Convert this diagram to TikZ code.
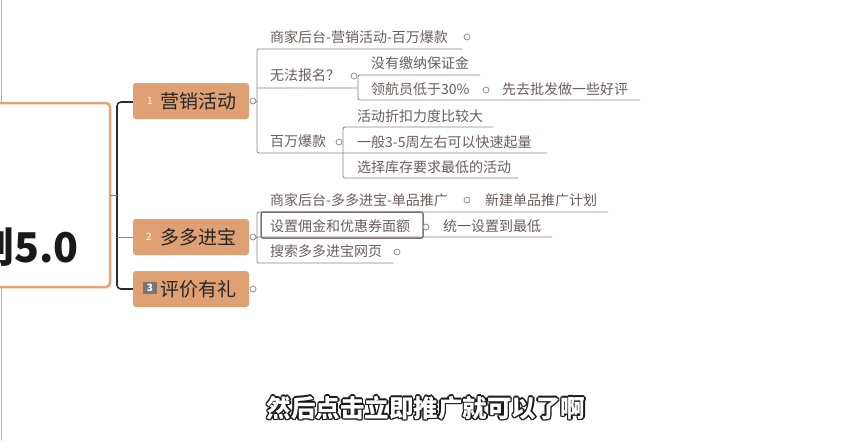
\documentclass[tikz,border=0pt]{standalone}
\usepackage{fontspec}
\setmainfont{Noto Sans CJK SC}
\definecolor{nodeorange}{HTML}{DFA073}
\definecolor{rootorange}{HTML}{E3A373}
\definecolor{leafgray}{HTML}{6A5D60}
\definecolor{linegray}{HTML}{8A8387}
\definecolor{darkline}{HTML}{2E2A2C}
\definecolor{badgegray}{HTML}{7D7575}
\tikzset{
	mainnode/.style={fill=nodeorange, rounded corners=3pt, minimum width=116pt, minimum height=36pt, inner sep=0pt},
	maintext/.style={font=\fontsize{19}{21}\selectfont, text=black!85, inner sep=0pt},
	leaf/.style={font=\fontsize{14}{16}\selectfont, text=leafgray, anchor=west, inner sep=0pt},
	fold/.style={circle, draw=linegray, line width=0.7pt, minimum size=6pt, inner sep=0pt},
	uline/.style={draw=linegray, line width=0.8pt},
}
\begin{document}
\begin{tikzpicture}[x=1pt, y=-1pt, line join=round, line cap=round]
	\useasboundingbox[fill=white] (0,0) rectangle (854,440);
	% root
	\draw[rootorange, line width=1.2pt] (1.2,0)--(1.2,440);
	\draw[rootorange, fill=white, line width=2.5pt, rounded corners=4pt] (-30,103) rectangle (110,287);
	\node[anchor=base east, inner sep=0pt, font=\bfseries\fontsize{41}{45}\selectfont, text=black!90] (root) at (79,262) {划5.0};
	% bracket
	\draw[darkline, line width=1.6pt, rounded corners=4pt] (133,102)--(117,102)--(117,289)--(133,289);
	\draw[linegray, line width=0.8pt] (110,195)--(117,195) (117,237)--(133,237);
	% main topics
	\node[mainnode] (mk) at (191,101) {};
	\node[mainnode] (dd) at (191,237) {};
	\node[mainnode] (pj) at (191,289) {};
	\node[maintext] (mkt) at (198.5,101) {营销活动};
	\node[maintext] (ddt) at (198.5,237) {多多进宝};
	\node[maintext] (pjt) at (198.5,289) {评价有礼};
	\node[inner sep=0pt, text=white, font=\fontsize{10}{10}\selectfont] (b1) at (150,101) {1};
	\node[inner sep=0pt, text=white, font=\fontsize{10}{10}\selectfont] (b2) at (149,237) {2};
	\node[fill=badgegray, text=white, inner sep=0pt, minimum width=14pt, minimum height=12pt, font=\bfseries\fontsize{10}{10}\selectfont] (b3) at (150,288) {3};
	% branch lines
	\draw[uline, rounded corners=2pt] (462,49)--(257,49)--(257,153)--(343,153) (257,88)--(358,88);
	\draw[uline, rounded corners=2pt] (480,75)--(358,75)--(358,100)--(640,100);
	\draw[uline, rounded corners=2pt] (493,127)--(343,127)--(343,178)--(518,178) (343,153)--(547,153);
	\draw[uline, rounded corners=2pt] (608,212)--(257,212)--(257,263)--(393,263) (257,237)--(552,237);
	\draw[uline, line width=1.5pt, draw=badgegray, rounded corners=2pt] (261,212) rectangle (423,238);
	\draw[uline] (253,101)--(257,101) (253,237)--(257,237);
	% leaves
	\node[leaf] (l1) at (270,37) {商家后台-营销活动-百万爆款};
	\node[leaf] (l2) at (270,75) {无法报名？};
	\node[leaf] (l21) at (371,63) {没有缴纳保证金};
	\node[leaf] (l22) at (371,89) {领航员低于30\%};
	\node[leaf] (l221) at (502,89) {先去批发做一些好评};
	\node[leaf] (l3) at (270,141) {百万爆款};
	\node[leaf] (l31) at (357,116) {活动折扣力度比较大};
	\node[leaf] (l32) at (357,142) {一般3-5周左右可以快速起量};
	\node[leaf] (l33) at (357,167) {选择库存要求最低的活动};
	\node[leaf] (m1) at (270,200) {商家后台-多多进宝-单品推广};
	\node[leaf] (m11) at (485,200) {新建单品推广计划};
	\node[leaf] (m2) at (270,226) {设置佣金和优惠券面额};
	\node[leaf] (m21) at (443,226) {统一设置到最低};
	\node[leaf] (m3) at (270,251) {搜索多多进宝网页};
	% fold markers
	\foreach \x/\y [count=\i] in {253/101, 253/237, 253/289, 467/37, 354/76, 486/90, 339/142, 467/200, 426/227, 397/252}
		\node[fold, fill=white] (f\i) at (\x,\y) {};
	% subtitle
	\foreach \a in {0,45,...,315}
		\node[font=\bfseries\fontsize{24.5}{26}\selectfont, text=black!90, inner sep=0pt] at ([shift={(\a:1.6)}]426,408) {然后点击立即推广就可以了啊};
	\node[font=\bfseries\fontsize{24.5}{26}\selectfont, text=white, inner sep=0pt] (sub) at (426,408) {然后点击立即推广就可以了啊};
\end{tikzpicture}
\end{document}
